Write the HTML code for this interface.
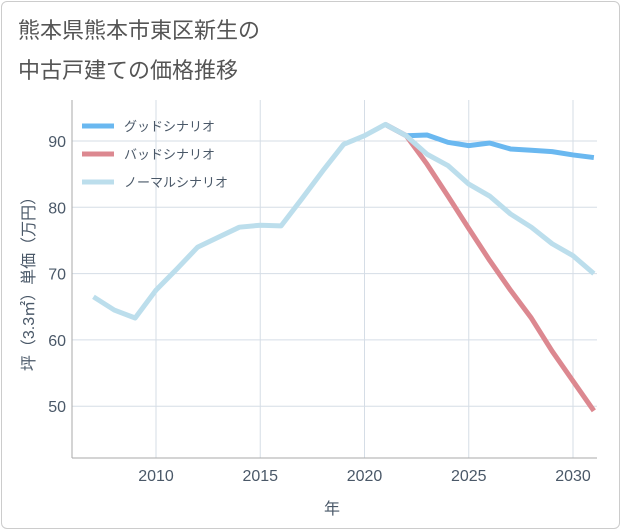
<!DOCTYPE html>
<html><head><meta charset="utf-8"><style>
body{margin:0;background:#fff;font-family:"Liberation Sans","Noto Sans CJK JP",sans-serif;}
.card{position:absolute;left:1px;top:1px;width:617px;height:526px;border:1px solid #ccc;border-radius:6px;background:#fff}
</style></head><body>
<div class="card"></div>
<svg id="c" width="621" height="530" style="position:absolute;left:0;top:0">
<defs><clipPath id="pc"><rect x="72" y="95" width="525" height="365"/></clipPath></defs>
<text x="18" y="38" font-size="22" fill="#555">熊本県熊本市東区新生の</text>
<text x="18" y="78" font-size="22" fill="#555">中古戸建ての価格推移</text>
<g id="grid"></g><g id="series" clip-path="url(#pc)"></g><g id="axes"></g>
<text x="332" y="514" font-size="16" fill="#4a5868" text-anchor="middle">年</text>
<text transform="translate(34,280) rotate(-90)" font-size="16" fill="#4a5868" text-anchor="middle">坪（3.3㎡）単価（万円）</text>
<g id="legend"></g>
</svg>
<script>
const years=[2007,2008,2009,2010,2011,2012,2013,2014,2015,2016,2017,2018,2019,2020,2021,2022,2023,2024,2025,2026,2027,2028,2029,2030,2031];
const normal=[66.5,64.5,63.3,67.5,70.7,74,75.5,77,77.3,77.2,81.3,85.5,89.5,90.8,92.5,90.8,88,86.3,83.5,81.7,79,77,74.5,72.7,70];
const goodYears=[2021,2022,2023,2024,2025,2026,2027,2028,2029,2030,2031];
const good=[92.5,90.8,90.9,89.8,89.3,89.7,88.8,88.6,88.4,87.9,87.5];
const bad=[92.5,90.8,86.5,81.7,76.8,72,67.5,63.3,58.3,53.8,49.3];
const xTicks=[2010,2015,2020,2025,2030];
const yTicks=[50,60,70,80,90];
const L=72,R=597,T=100,B=458;
const x=v=>156+(v-2010)*20.85;
const y=v=>141+(90-v)*6.63;
const NS="http://www.w3.org/2000/svg";
function mk(t,a,p){const e=document.createElementNS(NS,t);for(const k in a)e.setAttribute(k,a[k]);p.appendChild(e);return e;}
const grid=document.getElementById('grid'),ser=document.getElementById('series'),ax=document.getElementById('axes'),lg=document.getElementById('legend');
xTicks.forEach(t=>{const l=mk('line',{x1:x(t),x2:x(t),y1:T,y2:B,stroke:'#d5dde6'},grid);


const tx=mk('text',{x:x(t),y:B+23,'font-size':16,fill:'#4a5868','text-anchor':'middle'},ax);tx.textContent=t;

});
yTicks.forEach(t=>{const l=mk('line',{x1:L,x2:R,y1:y(t),y2:y(t),stroke:'#d5dde6'},grid);


const tx=mk('text',{x:L-6,y:y(t)+6,'font-size':16,fill:'#4a5868','text-anchor':'end'},ax);tx.textContent=t;

});
const al=mk('line',{x1:L,x2:L,y1:T,y2:B,stroke:'#aaa'},ax);


const bl=mk('line',{x1:L,x2:R,y1:B,y2:B,stroke:'#aaa'},ax);


function path(xs,vs,col,name){const d=xs.map((t,i)=>(i?'L':'M')+x(t)+','+y(vs[i])).join('');
const p=mk('path',{d:d,fill:'none',stroke:col,'stroke-width':5,'stroke-linejoin':'round'},ser);

}
path(goodYears,good,'#6ab8f0','good-scenario-line');
path(goodYears,bad,'#dc8890','bad-scenario-line');
path(years,normal,'#bcdeec','normal-scenario-line');
[['グッドシナリオ','#6ab8f0'],['バッドシナリオ','#dc8890'],['ノーマルシナリオ','#bcdeec']].forEach((e,i)=>{
const yy=126+i*28;
const l=mk('line',{x1:82,x2:114,y1:yy,y2:yy,stroke:e[1],'stroke-width':5},lg);


const t=mk('text',{x:124,y:yy+5,'font-size':13,fill:'#4a5868'},lg);t.textContent=e[0];

});
</script>
</body></html>
